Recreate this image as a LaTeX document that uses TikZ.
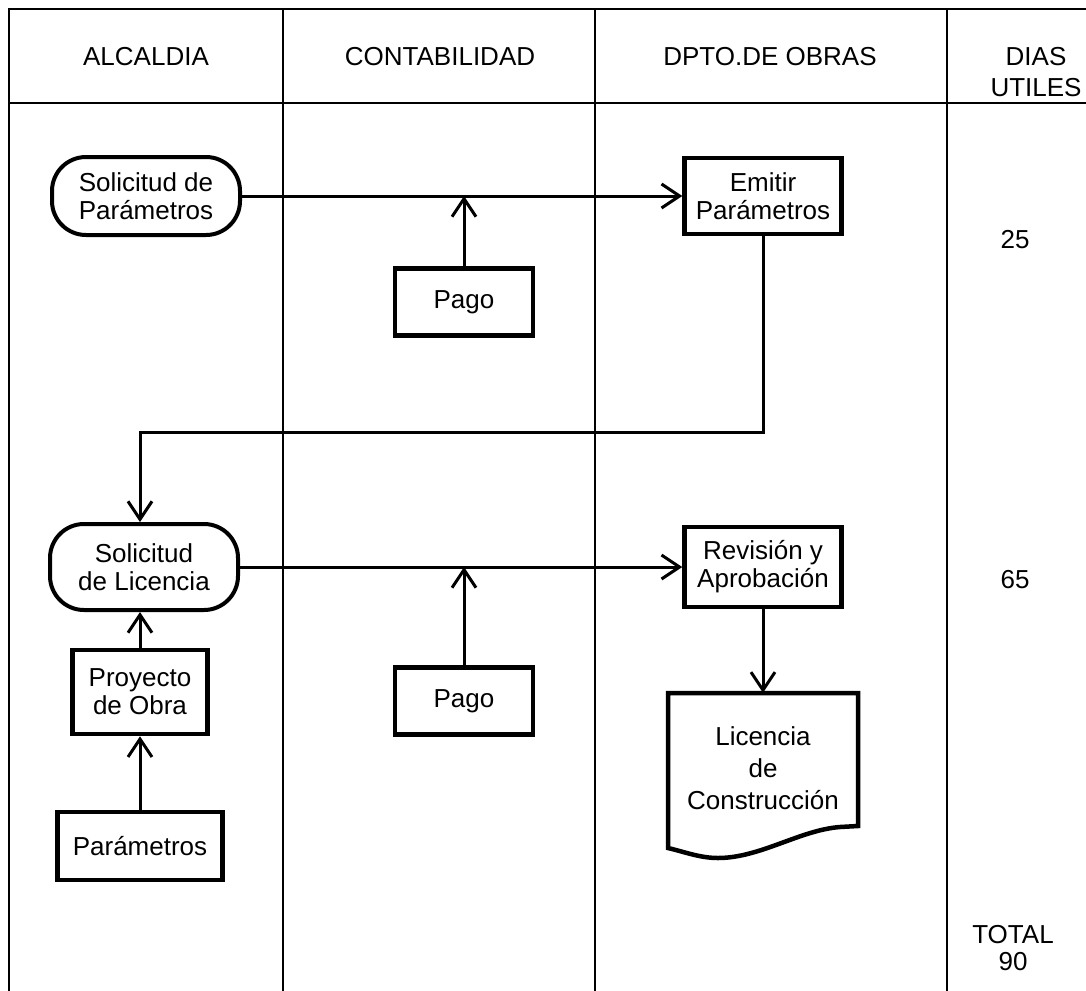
\documentclass[tikz,border=0pt]{standalone}
\usepackage{fontspec}
\setmainfont{Liberation Sans}
\usetikzlibrary{arrows.meta}
\begin{document}
\begin{tikzpicture}[x=1pt,y=-1pt,
  every node/.style={font=\fontsize{26}{28}\selectfont, align=center, inner sep=0pt},
  tbl/.style={line width=2.2pt},
  stad/.style={draw, line width=4pt, rounded corners=34pt, minimum width=188pt},
  boxn/.style={draw, line width=4.5pt},
  conn/.style={line width=3pt},
  arr/.style={conn, -{Straight Barb[length=18pt,width=24pt,line width=3pt]}}
]
\useasboundingbox (0,0) rectangle (1086,990);
% table
\draw[tbl] (9,992) -- (9,9) -- (1090,9);
\draw[tbl] (9,103) -- (1090,103);
\draw[tbl] (283,9) -- (283,992);
\draw[tbl] (595,9) -- (595,992);
\draw[tbl] (947,9) -- (947,992);
% headers
\node (h1) at (146,57) {ALCALDIA};
\node (h2) at (440,57) {CONTABILIDAD};
\node (h3) at (770,57) {DPTO.DE OBRAS};
\node[font=\fontsize{26}{31}\selectfont] (h4) at (1036,72) {DIAS\\UTILES};
% nodes
\node[stad, minimum height=78pt] (sp) at (146,196) {Solicitud de\\Parámetros};
\node[boxn, minimum width=157pt, minimum height=76pt] (em) at (763,196) {Emitir\\Parámetros};
\node[boxn, minimum width=138pt, minimum height=67pt] (pg1) at (464,302) {Pago};
\node[stad, minimum height=86pt] (sl) at (144,567) {Solicitud\\de Licencia};
\node[boxn, minimum width=157pt, minimum height=80pt] (rv) at (763,567) {Revisión y\\Aprobación};
\node[boxn, minimum width=138pt, minimum height=67pt] (pg2) at (464,701) {Pago};
\node[boxn, minimum width=135pt, minimum height=84pt] (pr) at (140,692) {Proyecto\\de Obra};
\node[boxn, minimum width=165pt, minimum height=68pt] (pa) at (140,846) {Parámetros};
\node[font=\fontsize{26}{32}\selectfont, minimum width=190pt, minimum height=150pt] (lic) at (763,768) {Licencia\\de\\Construcción};
\draw[line width=4.5pt, line join=miter] (668,693) -- (858,693) -- (858,826) -- (840,827)
  .. controls (800,830) and (760,858) .. (718,858)
  .. controls (700,858) and (685,852) .. (668,848) -- cycle;
% days
\node (d25) at (1015,240) {25};
\node (d65) at (1015,580) {65};
\node[font=\fontsize{26}{27}\selectfont] (tot) at (1013,948) {TOTAL\\90};
% connectors
\draw[arr] (sp.east) -- (em.west);
\draw[arr] (pg1.north) -- (pg1.north |- sp.east);
\coordinate (bend) at (0,432);
\draw[arr] (em.south) |- (bend -| pr.north) -- (pr.north |- sl.north);
\draw[arr] (sl.east) -- (rv.west);
\draw[arr] (pg2.north) -- (pg2.north |- sl.east);
\draw[arr] (rv.south) -- (lic.north);
\draw[arr] (pr.north) -- (pr.north |- sl.south);
\draw[arr] (pa.north) -- (pr.south);
\end{tikzpicture}
\end{document}
